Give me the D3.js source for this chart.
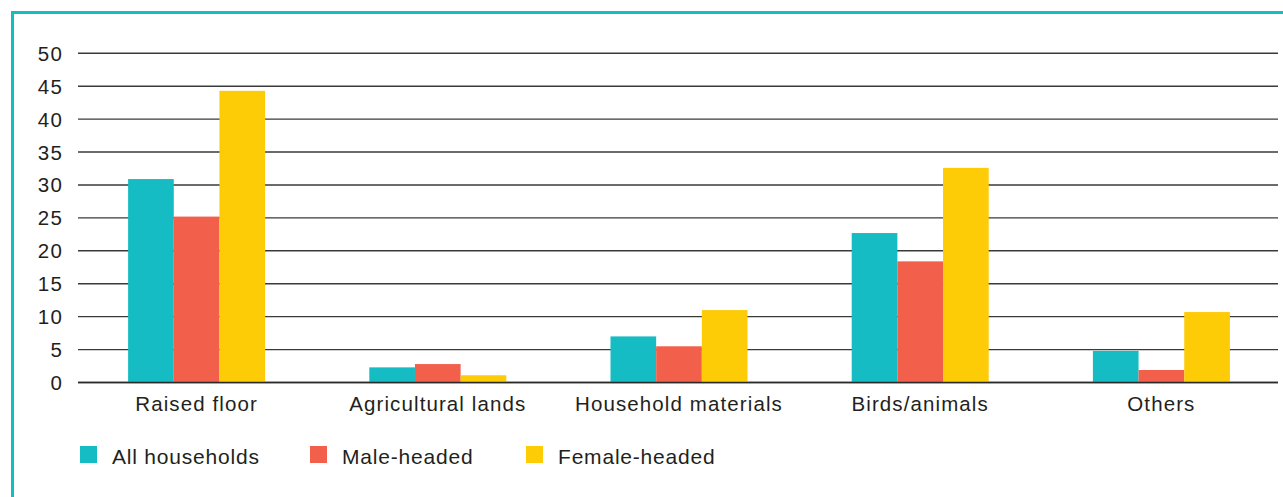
<!DOCTYPE html>
<html>
<head>
<meta charset="utf-8">
<script src="https://cdn.jsdelivr.net/npm/d3@7"></script>
<style>
  html, body { margin: 0; padding: 0; background: #fff; }
  svg { display: block; }
  text { font-family: "Liberation Sans", Arial, Helvetica, sans-serif; fill: #231f20; }
</style>
</head>
<body>
<svg id="chart" width="1283" height="497"></svg>
<script>
const categories = ["Raised floor", "Agricultural lands", "Household materials", "Birds/animals", "Others"];
const seriesNames = ["All households", "Male-headed", "Female-headed"];
const allHouseholds = [30.9, 2.3, 7.0, 22.7, 4.8];
const maleHeaded = [25.2, 2.8, 5.5, 18.4, 1.9];
const femaleHeaded = [44.3, 1.1, 11.0, 32.6, 10.7];
const yTicks = [0, 5, 10, 15, 20, 25, 30, 35, 40, 45, 50];
const colors = ["#16bcc3", "#f2604c", "#fecb07"];

const seriesValues = [allHouseholds, maleHeaded, femaleHeaded];
const svg = d3.select("#chart");

// frame (left and top teal border)
svg.append("line").attr("x1", 12.5).attr("x2", 12.5).attr("y1", 11.5).attr("y2", 497)
  .attr("stroke", "#16bcc3").attr("stroke-width", 3);
svg.append("line").attr("x1", 11).attr("x2", 1283).attr("y1", 12.5).attr("y2", 12.5)
  .attr("stroke", "#16bcc3").attr("stroke-width", 3);

const y = d3.scaleLinear().domain([0, 50]).range([382.5, 53.3]);
const x0 = d3.scaleBand().domain(categories).range([76, 1282]).paddingInner(0.432).paddingOuter(0.216);
const x1 = d3.scaleBand().domain(seriesNames).range([0, x0.bandwidth()]);

// gridlines
svg.append("g").selectAll("line").data(yTicks).join("line")
  .attr("x1", 78).attr("x2", 1278)
  .attr("y1", d => y(d)).attr("y2", d => y(d))
  .attr("stroke", "#3a3a3a").attr("stroke-width", 1.4);

// y tick labels
svg.append("g").selectAll("text").data(yTicks).join("text")
  .attr("x", 63).attr("y", d => y(d) + 7.5)
  .attr("text-anchor", "end").attr("font-size", 20.5)
  .attr("letter-spacing", 1.2)
  .text(d => d);

// bars
const groups = svg.append("g").selectAll("g").data(categories).join("g")
  .attr("transform", c => `translate(${x0(c)},0)`);
groups.selectAll("rect")
  .data((c, i) => seriesNames.map((s, j) => ({ s, j, v: seriesValues[j][i] })))
  .join("rect")
  .attr("x", d => x1(d.s))
  .attr("width", x1.bandwidth())
  .attr("y", d => y(d.v))
  .attr("height", d => y(0) - y(d.v))
  .attr("fill", d => colors[d.j]);

// baseline
svg.append("line").attr("x1", 78).attr("x2", 1278).attr("y1", y(0)).attr("y2", y(0))
  .attr("stroke", "#2a2a2a").attr("stroke-width", 1.6);

// category labels
svg.append("g").selectAll("text").data(categories).join("text")
  .attr("x", c => x0(c) + x0.bandwidth() / 2)
  .attr("y", 411)
  .attr("text-anchor", "middle").attr("font-size", 20.5)
  .attr("letter-spacing", 1.1)
  .text(c => c);

// legend
const legendX = [80, 310, 526];
const legend = svg.append("g").selectAll("g").data(seriesNames).join("g")
  .attr("transform", (d, i) => `translate(${legendX[i]},446)`);
legend.append("rect").attr("width", 17).attr("height", 17).attr("fill", (d, i) => colors[i]);
legend.append("text").attr("x", 32).attr("y", 17.5).attr("font-size", 21)
  .attr("letter-spacing", 0.8).text(d => d);
</script>
</body>
</html>
